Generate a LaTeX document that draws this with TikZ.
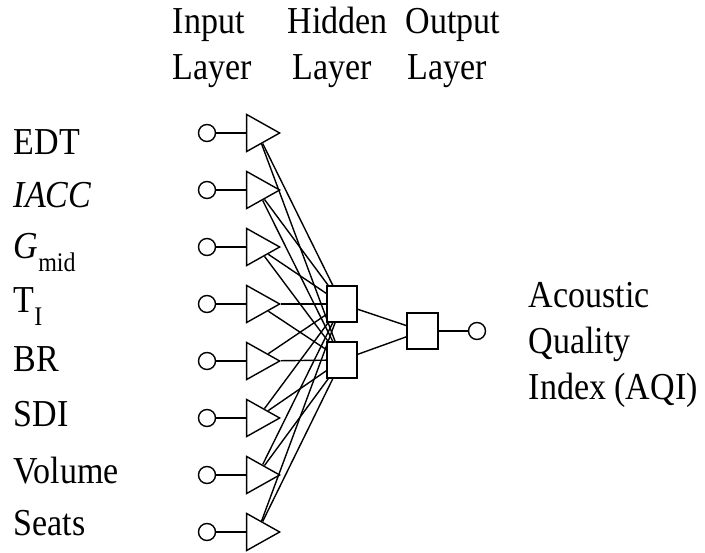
\documentclass[tikz,border=0pt]{standalone}
\usepackage{fontspec}
\usepackage{graphicx}
\setmainfont{Liberation Serif}
\usetikzlibrary{shapes.geometric}
\newcommand{\lowsub}[1]{\raisebox{-0.33em}{\fontsize{24}{24}\selectfont #1}}
\newcommand{\tallt}[1]{\scalebox{1}[1.12]{#1}}
\begin{document}
\begin{tikzpicture}[x=1pt,y=-1pt,line width=1.4pt,
  inp/.style={circle,draw,minimum size=17pt,inner sep=0pt},
  tri/.style={isosceles triangle,isosceles triangle stretches,draw,fill=white,
    minimum width=37pt,minimum height=33pt,inner sep=0pt},
  box/.style={rectangle,draw,fill=white,minimum width=30pt,minimum height=36pt,inner sep=0pt},
  lab/.style={font=\fontsize{34}{40}\selectfont,anchor=base west,inner sep=0pt}
]
\useasboundingbox (0,0) rectangle (705,553);
% layer titles
\node[lab] (tin) at (172,34) {\tallt{Input}};
\node[lab] (tinl) at (172,80) {\tallt{Layer}};
\node[lab] (thd) at (287,34) {\tallt{Hidden}};
\node[lab] (thdl) at (292,80) {\tallt{Layer}};
\node[lab] (tout) at (405,34) {\tallt{Output}};
\node[lab] (toutl) at (407,80) {\tallt{Layer}};
% input labels
\node[lab] (l1) at (13,155) {\tallt{EDT}};
\node[lab] (l2) at (13,208) {\tallt{\itshape IACC}};
\node[lab] (l3) at (13,259) {\tallt{{\itshape G}\lowsub{mid}}};
\node[lab] (l4) at (13,313) {\tallt{T\lowsub{I}}};
\node[lab] (l5) at (13,372) {\tallt{BR}};
\node[lab] (l6) at (13,427) {\tallt{SDI}};
\node[lab] (l7) at (13,484) {\tallt{Volume}};
\node[lab] (l8) at (13,536) {\tallt{Seats}};
% output label
\node[lab] (a1) at (528,308) {\tallt{Acoustic}};
\node[lab] (a2) at (528,354) {\tallt{Quality}};
\node[lab] (a3) at (528,400) {\tallt{Index (AQI)}};
% hidden and output
\node[box] (h1) at (342,304) {};
\node[box] (h2) at (342,360) {};
\node[box,minimum width=31pt] (o) at (422.5,331) {};
\node[inp] (oc) at (477,331) {};
\draw (h1) -- (o);
\draw (h2) -- (o);
\draw (o) -- (oc);
% input rows
\foreach \i/\y in {1/133,2/190,3/247,4/304,5/361,6/418,7/475,8/532}{
  \node[inp] (c\i) at (207,\y) {};
  \node[tri] (t\i) at (257.5,\y) {};
  \draw (c\i) -- (t\i);
  \draw (t\i) -- (h1);
  \draw (t\i) -- (h2);
}
\end{tikzpicture}
\end{document}
